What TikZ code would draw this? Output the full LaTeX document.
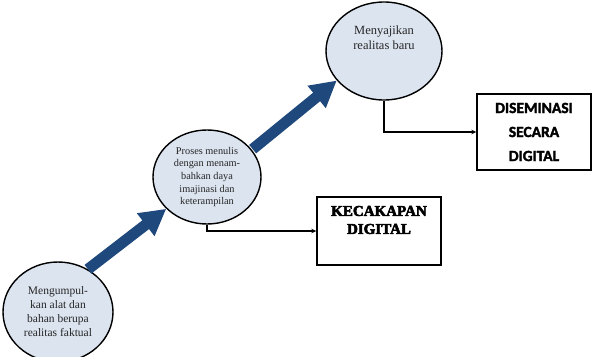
\documentclass[tikz,border=0pt]{standalone}
\usepackage{fontspec}
\setmainfont{Liberation Serif}
\newfontfamily\dfont{Carlito}[BoldFeatures={FakeBold=2}]
\newfontfamily\kfont{Liberation Serif}[BoldFeatures={FakeBold=3.5}]
\usetikzlibrary{shapes.geometric,arrows.meta}
\definecolor{bubblefill}{HTML}{DCE4F0}
\definecolor{arrowblue}{HTML}{1F497D}
\definecolor{txtgray}{HTML}{262626}
\tikzset{
  bubble/.style={ellipse, draw=black, line width=1.4pt, fill=bubblefill, inner sep=0pt},
  bubbletext/.style={align=center, text=txtgray},
  bigarrow/.style={line width=11pt, draw=arrowblue, -{Triangle[length=26pt,width=27pt]}},
  link/.style={line width=1.2pt, draw=black, -{Stealth[length=5pt,width=4.5pt]}},
  outbox/.style={rectangle, draw=black, line width=1.4pt, fill=white, inner sep=0pt}
}
\begin{document}
\begin{tikzpicture}[x=1pt,y=-1pt]
\clip (0,0) rectangle (593,356);
\useasboundingbox (0,0) rectangle (593,356);
\fill[white] (0,0) rectangle (593,356);
% bubbles
\node[bubble, minimum width=110pt, minimum height=100pt,
  label={[bubbletext, font=\fontsize{11.5}{14}\selectfont, yshift=0pt]center:Mengumpul-\\kan alat dan\\bahan berupa\\realitas faktual}] (A) at (58,312) {};
\node[bubble, minimum width=108pt, minimum height=94pt,
  label={[bubbletext, font=\fontsize{10.3}{12.7}\selectfont]center:Proses menulis\\dengan menam-\\bahkan daya\\imajinasi dan\\keterampilan}] (B) at (207,177) {};
\node[bubble, minimum width=116pt, minimum height=98pt,
  label={[bubbletext, font=\fontsize{12.5}{15}\selectfont, yshift=13pt]center:Menyajikan\\realitas baru}] (C) at (384,51) {};
% boxes
\node[outbox, minimum width=114pt, minimum height=76pt, align=center,
  font=\dfont\bfseries\fontsize{15.5}{24}\selectfont] (D) at (534,132) {DISEMINASI\\SECARA\\DIGITAL};
\node[outbox, minimum width=124pt, minimum height=68pt,
  label={[align=center, font=\kfont\bfseries\fontsize{15}{18}\selectfont, yshift=11pt]center:KECAKAPAN\\DIGITAL}] (K) at (379,231) {};
% connectors
\draw[bigarrow] (A.55) -- (B.218);
\draw[bigarrow] ([shift={(3pt,-2pt)}]B.35) -- (C.212);
\draw[link] (B.south) |- (K.west);
\draw[link] (C.south) |- (D.west);
\end{tikzpicture}
\end{document}
